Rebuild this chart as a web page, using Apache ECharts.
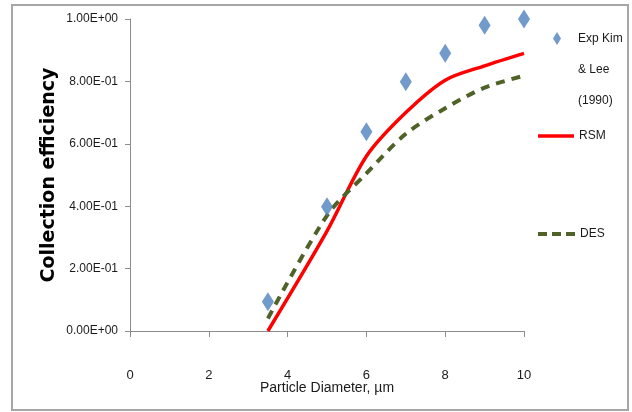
<!DOCTYPE html>
<html>
<head>
<meta charset="utf-8">
<script src="https://cdn.jsdelivr.net/npm/echarts@6/dist/echarts.min.js"></script>
<style>
  html, body { margin: 0; padding: 0; background: #fff; }
  #chart { width: 632px; height: 412px; }
</style>
</head>
<body>
<div id="chart"></div>
<script>
// Particle diameters (µm) and collection efficiencies
const diameters = [3.5, 5, 6, 7, 8, 9, 10];
const expKimLee = [0.094, 0.398, 0.639, 0.799, 0.89, 0.98, 1.0];
const rsm = [0.0, 0.32, 0.56, 0.70, 0.804, 0.85, 0.89];
const des = [0.04, 0.37, 0.505, 0.632, 0.714, 0.78, 0.818];
const xTicks = [0, 2, 4, 6, 8, 10];
const yTicks = [0, 0.2, 0.4, 0.6, 0.8, 1.0];

const pairs = (ys) => diameters.map((x, i) => [x, ys[i]]);

// Excel-style scientific label, e.g. 2.00E-01
function sci(v) {
  if (v === 0) return '0.00E+00';
  const e = Math.floor(Math.log10(Math.abs(v)) + 1e-9);
  const m = v / Math.pow(10, e);
  const sign = e < 0 ? '-' : '+';
  const ee = String(Math.abs(e)).padStart(2, '0');
  return m.toFixed(2) + 'E' + sign + ee;
}

const FONT = '"Liberation Sans", Arial, sans-serif';
const TEXT = '#1a1a1a';
const AXIS_GRAY = '#8c8c8c';

const chart = echarts.init(document.getElementById('chart'), null, { renderer: 'canvas' });

chart.setOption({
  animation: false,
  backgroundColor: '#fff',
  graphic: [{
    type: 'rect',
    shape: { x: 12, y: 5, width: 616, height: 405 },
    style: { fill: 'none', stroke: '#a6a6a6', lineWidth: 2 },
    silent: true
  }],
  grid: { left: 130, right: 108, top: 19, bottom: 81, containLabel: false },
  xAxis: {
    type: 'value',
    min: xTicks[0],
    max: xTicks[xTicks.length - 1],
    interval: 2,
    name: 'Particle Diameter, µm',
    nameLocation: 'middle',
    nameGap: 50,
    nameMoveOverlap: false,
    nameTextStyle: { fontFamily: FONT, fontSize: 14, color: TEXT },
    axisLine: { show: true, onZero: false, lineStyle: { color: AXIS_GRAY, width: 1 } },
    axisTick: { show: true, inside: false, length: 6, lineStyle: { color: AXIS_GRAY } },
    axisLabel: { margin: 38, fontFamily: FONT, fontSize: 13, color: TEXT },
    splitLine: { show: false }
  },
  yAxis: {
    type: 'value',
    min: yTicks[0],
    max: yTicks[yTicks.length - 1],
    interval: 0.2,
    name: 'Collection efficiency',
    nameLocation: 'middle',
    nameGap: 71,
    nameMoveOverlap: false,
    nameRotate: 90,
    nameTextStyle: { fontFamily: '"DejaVu Sans", sans-serif', fontWeight: 'bold', fontSize: 19, color: '#000' },
    axisLine: { show: true, lineStyle: { color: AXIS_GRAY, width: 1 } },
    axisTick: { show: true, inside: false, length: 5, lineStyle: { color: AXIS_GRAY } },
    axisLabel: { margin: 12, fontFamily: FONT, fontSize: 12, color: TEXT, formatter: sci },
    splitLine: { show: false }
  },
  legend: [
    {
      // two leading blank lines keep the first text line level with the marker
      data: ['Exp Kim & Lee (1990)'],
      left: 553, top: -39, padding: 0,
      itemWidth: 8, itemHeight: 13,
      icon: 'path://M4,0 L8,6.5 L4,13 L0,6.5 Z',
      formatter: () => '\n\n{t|Exp Kim}\n{t|& Lee}\n{t|(1990)}',
      textStyle: {
        fontFamily: FONT, fontSize: 12, color: TEXT, lineHeight: 31,
        rich: { t: { fontFamily: FONT, fontSize: 12, color: TEXT, lineHeight: 31, padding: [0, 0, 0, 12] } }
      }
    },
    {
      data: ['RSM'],
      left: 538, top: 130, padding: 0,
      itemWidth: 36, itemHeight: 14,
      icon: 'path://M0,0h36v3.5h-36z',
      textStyle: { fontFamily: FONT, fontSize: 12, color: TEXT }
    },
    {
      data: ['DES'],
      left: 538, top: 228, padding: 0,
      itemWidth: 37, itemHeight: 14,
      icon: 'path://M0,0h9v4h-9z M14,0h9v4h-9z M28,0h9v4h-9z',
      textStyle: { fontFamily: FONT, fontSize: 12, color: TEXT }
    }
  ],
  series: [
    {
      name: 'Exp Kim & Lee (1990)',
      type: 'scatter',
      data: pairs(expKimLee),
      symbol: 'diamond',
      symbolSize: [12, 19],
      itemStyle: { color: '#4f81bd' },
      z: 3
    },
    {
      name: 'RSM',
      type: 'line',
      data: pairs(rsm),
      smooth: 0.3,
      showSymbol: false,
      symbol: 'none',
      lineStyle: { color: '#ff0000', width: 3.5 },
      itemStyle: { color: '#ff0000' },
      z: 2
    },
    {
      name: 'DES',
      type: 'line',
      data: pairs(des),
      smooth: 0.3,
      showSymbol: false,
      symbol: 'none',
      lineStyle: { color: '#4f6228', width: 4, type: [9, 7] },
      itemStyle: { color: '#4f6228' },
      z: 2
    }
  ]
});
</script>
</body>
</html>
